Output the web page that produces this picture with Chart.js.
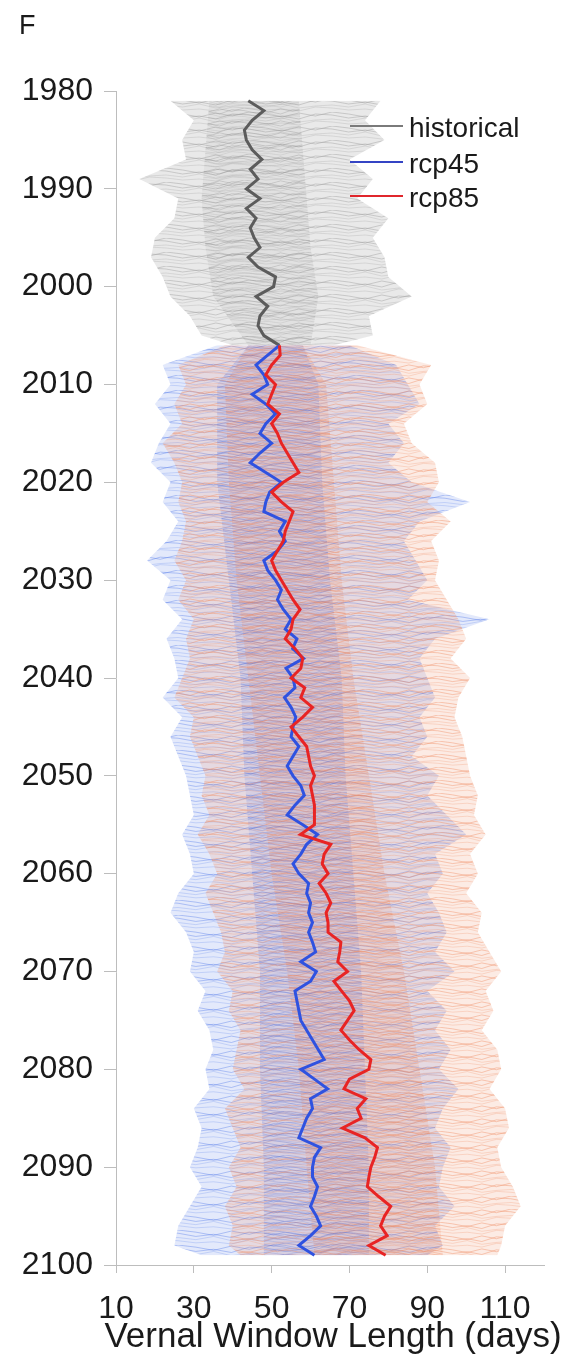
<!DOCTYPE html>
<html>
<head>
<meta charset="utf-8">
<script src="https://cdn.jsdelivr.net/npm/chart.js@4.4.1/dist/chart.umd.min.js"></script>
<style>
  html, body { margin: 0; padding: 0; background: #fff; }
  canvas { display: block; }
</style>
</head>
<body>
<canvas id="chart" width="578" height="1367"></canvas>
<script>
// ensemble means
var histYears = [1981, 1982, 1983, 1984, 1985, 1986, 1987, 1988, 1989, 1990,
  1991, 1992, 1993, 1994, 1995, 1996, 1997, 1998, 1999, 2000,
  2001, 2002, 2003, 2004, 2005, 2006];
var histMean = [44, 48, 45, 43, 43.5, 45, 47.5, 44.5, 46.5, 43.5,
  47, 43.5, 46, 44.5, 45.5, 47, 44, 46.5, 51, 50.5,
  46, 49, 47, 46.5, 48, 52];

var rcpYears = [2006, 2007, 2008, 2009, 2010, 2011, 2012, 2013, 2014, 2015,
  2016, 2017, 2018, 2019, 2020, 2021, 2022, 2023, 2024, 2025,
  2026, 2027, 2028, 2029, 2030, 2031, 2032, 2033, 2034, 2035,
  2036, 2037, 2038, 2039, 2040, 2041, 2042, 2043, 2044, 2045,
  2046, 2047, 2048, 2049, 2050, 2051, 2052, 2053, 2054, 2055,
  2056, 2057, 2058, 2059, 2060, 2061, 2062, 2063, 2064, 2065,
  2066, 2067, 2068, 2069, 2070, 2071, 2072, 2073, 2074, 2075,
  2076, 2077, 2078, 2079, 2080, 2081, 2082, 2083, 2084, 2085,
  2086, 2087, 2088, 2089, 2090, 2091, 2092, 2093, 2094, 2095,
  2096, 2097, 2098, 2099];
var rcp45Mean = [52, 49, 46, 48, 49, 45, 48.5, 51, 48.5, 47,
  50, 47, 44.5, 48.5, 52.5, 49.5, 48.5, 48, 53.5, 52,
  53.5, 51.5, 48, 49, 51, 52.5, 51.5, 53, 55, 53.5,
  56.5, 55.4, 58.2, 53.7, 55.5, 56, 53.3, 55, 56.2, 55.5,
  55, 57, 55.5, 54, 55.5, 57.5, 58.4, 56, 54, 58,
  61.8, 59, 57.5, 55.5, 57, 59.5, 59, 60, 59.5, 60.5,
  59.5, 60.5, 61.3, 57.5, 61.5, 60, 56, 56.5, 57, 57.5,
  59, 60.5, 62, 63.5, 57.5, 61, 64.4, 60, 60.5, 59,
  58, 57, 62.6, 61, 60.5, 60.5, 61.8, 61, 60, 61.5,
  62.6, 60, 57, 61];
var rcp85Mean = [52, 52.2, 50, 48.5, 51, 50, 49, 52, 50, 51.5,
  52.5, 54, 55.5, 57, 53, 50, 52.5, 55.5, 54.5, 53.5,
  53, 51.5, 50, 51, 52.5, 54, 55.5, 57.3, 55.5, 55,
  53.5, 56, 58, 57.5, 55, 58.5, 57.5, 60.5, 58, 55,
  57, 59, 59.5, 60, 61, 60, 60.5, 61, 61, 61,
  57.4, 65.2, 63.5, 63, 64.5, 62.2, 64, 65.2, 64, 64.5,
  64.5, 67.8, 67.5, 67, 69.5, 66, 68, 70, 71.2, 69.5,
  67.8, 70, 72.5, 75.5, 75, 70, 68.6, 74.2, 72, 73,
  68.2, 74, 77.2, 76.5, 75.5, 75, 74.6, 77.5, 80.6, 79,
  78, 79.7, 75, 79.3];

// spread of the individual model runs (outer edges and dense core)
var histEnvYears = [1981, 1983, 1985, 1987, 1989, 1991, 1993, 1995, 1997, 1999, 2001, 2003, 2005, 2006];
var histMin = [24, 30, 27, 28, 16, 26, 25, 20, 19, 22, 24, 29, 32, 40];
var histMax = [78, 74, 79, 70, 76, 72, 80, 76, 79, 80, 86, 75, 76, 66];
var histCoreYears = [1981, 1986, 1991, 1996, 2001, 2006];
var histLo = [34, 33, 32, 33, 35, 44];
var histHi = [57, 58, 59, 60, 62, 60];

var rcpEnvYears = [2006, 2008, 2010, 2012, 2014, 2016, 2018, 2020, 2022, 2024,
  2026, 2028, 2030, 2032, 2034, 2036, 2038, 2040, 2042, 2044,
  2046, 2048, 2050, 2052, 2054, 2056, 2058, 2060, 2062, 2064,
  2066, 2068, 2070, 2072, 2074, 2076, 2078, 2080, 2082, 2084,
  2086, 2088, 2090, 2092, 2094, 2096, 2098, 2099];
var rcp45Min = [36, 22, 24, 20, 24, 21, 19, 24, 22, 26,
  23, 18, 24, 22, 27, 23, 25, 26, 22, 27,
  24, 26, 28, 29, 30, 27, 29, 30, 26, 24,
  28, 30, 29, 33, 31, 34, 35, 33, 34, 30,
  32, 31, 29, 32, 29, 26, 25, 32];
var rcp45Max = [70, 82, 85, 88, 80, 84, 80, 86, 101, 88,
  84, 87, 90, 85, 106, 92, 88, 90, 92, 88,
  90, 86, 93, 90, 95, 100, 92, 94, 90, 93,
  95, 92, 97, 90, 95, 92, 96, 93, 98, 94,
  92, 96, 94, 93, 97, 92, 94, 90];
var rcp85Min = [38, 26, 28, 25, 27, 22, 25, 27, 26, 28,
  27, 25, 28, 26, 30, 28, 29, 27, 25, 30,
  29, 31, 33, 32, 34, 31, 34, 36, 33, 35,
  37, 38, 36, 40, 39, 42, 41, 40, 43, 38,
  40, 42, 39, 41, 38, 40, 39, 42];
var rcp85Max = [72, 91, 88, 90, 84, 86, 92, 93, 90, 96,
  91, 93, 92, 95, 98, 100, 96, 101, 98, 97,
  99, 100, 101, 103, 102, 105, 101, 103, 100, 104,
  103, 106, 109, 105, 107, 104, 108, 109, 106, 110,
  111, 108, 109, 112, 114, 110, 109, 108];
var rcpCoreYears = [2006, 2010, 2020, 2030, 2040, 2050, 2060, 2070, 2080, 2090, 2099];
var rcp45Lo = [44, 36, 36, 39, 42, 43, 45, 47, 47, 48, 48];
var rcp45Hi = [58, 62, 63, 65, 68, 69, 71, 73, 74, 75, 75];
var rcp85Lo = [44, 38, 39, 41, 44, 47, 50, 54, 57, 59, 61];
var rcp85Hi = [58, 64, 66, 68, 71, 75, 79, 84, 88, 92, 94];

var xTicks = [10, 30, 50, 70, 90, 110];
var yTicks = [1980, 1990, 2000, 2010, 2020, 2030, 2040, 2050, 2060, 2070, 2080, 2090, 2100];

var legendLabels = ['historical', 'rcp45', 'rcp85'];
var legendColors = ['#7a7a7a', '#3444c4', '#e0262c'];
var xTitle = 'Vernal Window Length (days)';

var FONT = '"Liberation Sans", Helvetica, Arial, sans-serif';
var TXT = '#1a1a1a';
var AXIS = '#bdbdbd';

// streaky fill so the bands read as a bundle of thin zig-zag model lines
var zig = [[0, 2, 5, 1, 4, 0], [7, 9, 6, 10, 8, 7], [3, 6, 4, 7, 2, 3], [10, 12, 11, 13, 9, 10]];
function streaks(rgb, base, alpha, w, h) {
  var c = document.createElement('canvas');
  c.width = w; c.height = h;
  var g = c.getContext('2d');
  g.fillStyle = 'rgba(' + rgb + ',' + base + ')';
  g.fillRect(0, 0, w, h);
  g.lineWidth = 1;
  zig.forEach(function (row, k) {
    g.strokeStyle = 'rgba(' + rgb + ',' + (alpha * (k % 2 ? 0.6 : 1)) + ')';
    g.beginPath();
    row.forEach(function (dy, j) {
      var px = w * j / (row.length - 1);
      var py = (dy * h / 14) % h;
      if (j === 0) g.moveTo(px, py); else g.lineTo(px, py);
    });
    g.stroke();
  });
  return g.createPattern(c, 'repeat');
}

function pts(years, vals) {
  return years.map(function (y, i) { return {x: vals[i], y: y}; });
}

function band(years, lo, hi, color, order) {
  return [
    {data: pts(years, lo), borderWidth: 0, pointRadius: 0, fill: false, order: order},
    {data: pts(years, hi), borderWidth: 0, pointRadius: 0, fill: '-1', backgroundColor: color, order: order}
  ];
}

function meanLine(years, vals, color, order) {
  return {data: pts(years, vals), borderColor: color, borderWidth: 3, pointRadius: 0,
    fill: false, order: order};
}

var datasets = [].concat(
  band(histEnvYears, histMin, histMax, streaks('165,165,165', 0.24, 0.5, 83, 14), 20),
  band(histCoreYears, histLo, histHi, streaks('140,140,140', 0.08, 0.3, 61, 12), 19),
  band(rcpEnvYears, rcp45Min, rcp45Max, streaks('100,135,235', 0.18, 0.45, 89, 15), 18),
  band(rcpEnvYears, rcp85Min, rcp85Max, streaks('240,145,105', 0.18, 0.45, 73, 13), 17),
  band(rcpCoreYears, rcp45Lo, rcp45Hi, streaks('90,120,225', 0.1, 0.32, 57, 11), 16),
  band(rcpCoreYears, rcp85Lo, rcp85Hi, streaks('235,130,90', 0.1, 0.32, 67, 12), 15),
  [meanLine(histYears, histMean, '#5c5c5c', 2),
   meanLine(rcpYears, rcp45Mean, '#2f52e0', 1),
   meanLine(rcpYears, rcp85Mean, '#e82424', 0)]
);

var annot = {
  id: 'annot',
  afterDraw: function (chart) {
    var ctx = chart.ctx;
    ctx.save();
    ctx.fillStyle = TXT;
    ctx.textBaseline = 'alphabetic';
    ctx.font = '27px ' + FONT;
    ctx.fillText('F', 19, 34);
    ctx.font = '28px ' + FONT;
    var rows = [126, 162, 196];
    legendLabels.forEach(function (lab, i) {
      ctx.strokeStyle = legendColors[i];
      ctx.lineWidth = 2.2;
      ctx.beginPath();
      ctx.moveTo(350, rows[i]);
      ctx.lineTo(403, rows[i]);
      ctx.stroke();
      ctx.fillStyle = TXT;
      ctx.fillText(lab, 409, rows[i] + 11);
    });
    ctx.font = '35px ' + FONT;
    ctx.textAlign = 'center';
    ctx.fillText(xTitle, 333, 1347);
    ctx.restore();
  }
};

new Chart(document.getElementById('chart'), {
  type: 'line',
  data: {datasets: datasets},
  plugins: [annot],
  options: {
    responsive: false,
    animation: false,
    devicePixelRatio: 1,
    indexAxis: 'y',
    layout: {padding: {left: 0, right: 34, top: 91, bottom: 0}},
    plugins: {legend: {display: false}, tooltip: {enabled: false}},
    elements: {point: {radius: 0}, line: {tension: 0}},
    scales: {
      x: {
        type: 'linear', position: 'bottom', min: 10, max: 120,
        afterBuildTicks: function (s) { s.ticks = xTicks.map(function (v) { return {value: v}; }); },
        afterFit: function (s) { s.height = 102; },
        grid: {drawOnChartArea: false, drawTicks: true, tickLength: 8, color: AXIS},
        border: {color: AXIS},
        ticks: {font: {size: 32, family: FONT}, color: TXT, padding: 17, maxRotation: 0, autoSkip: false,
          callback: function (v) { return String(v); }}
      },
      y: {
        type: 'linear', position: 'left', reverse: true, min: 1980, max: 2100,
        afterBuildTicks: function (s) { s.ticks = yTicks.map(function (v) { return {value: v}; }); },
        afterFit: function (s) { s.width = 116; },
        grid: {drawOnChartArea: false, drawTicks: true, tickLength: 12, color: AXIS},
        border: {color: AXIS},
        ticks: {font: {size: 32, family: FONT}, color: TXT, padding: 11, autoSkip: false,
          callback: function (v) { return String(v); }}
      }
    }
  }
});
</script>
</body>
</html>
